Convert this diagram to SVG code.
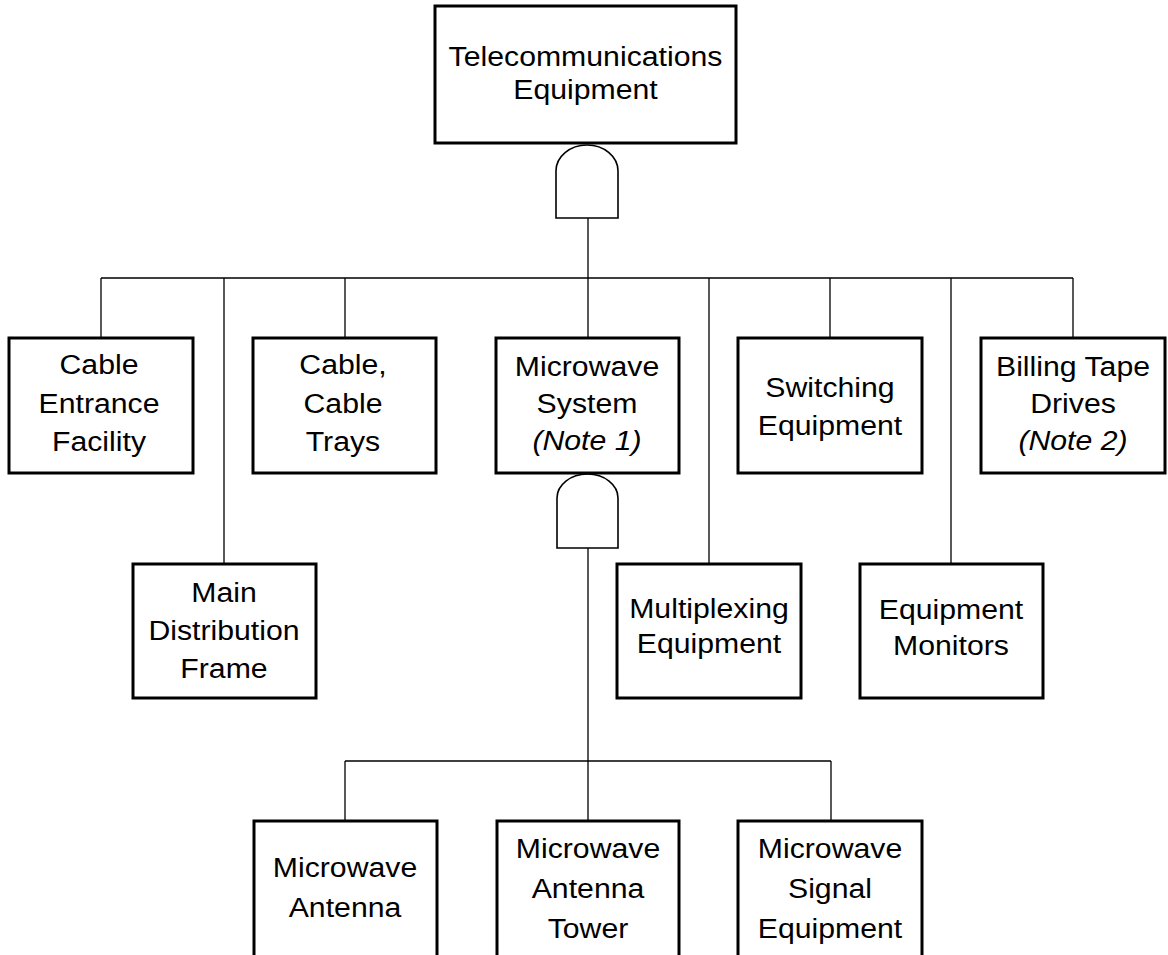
<svg xmlns="http://www.w3.org/2000/svg" width="1168" height="955" viewBox="0 0 1168 955">
<style>
.box{fill:#fff;stroke:#000;stroke-width:3}
.gate{fill:#fff;stroke:#000;stroke-width:1.6}
.ln{fill:none;stroke:#000;stroke-width:1.3}
text{font-family:"Liberation Sans",Arial,sans-serif;font-size:27px;fill:#000;text-anchor:middle}
.it{font-style:italic}
</style>
<rect width="1168" height="955" fill="#fff"/>
<g id="connectors">
<path class="ln" d="M588,218V278M101,278H1073M101,278V338M224,278V564M345,278V338M588,278V338M709,278V564M830,278V338M951,278V564M1073,278V338"/>
<path class="ln" d="M588,548V821M345,761H831M345,761V821M831,761V821"/>
</g>
<g id="gate-top"><path class="gate" d="M556,218V171A31,26 0 0 1 618,171V218Z"/></g>
<g id="gate-microwave"><path class="gate" d="M557,548V498A30.5,24 0 0 1 618,498V548Z"/></g>
<g id="n-telecom">
<rect class="box" x="435" y="6" width="301" height="137"/>
<g transform="translate(585.5 0) scale(1.12 1)"><text x="0" y="66">Telecommunications</text><text x="0" y="99">Equipment</text></g>
</g>
<g id="n-cable-entrance">
<rect class="box" x="9" y="338" width="184" height="135"/>
<g transform="translate(99 0) scale(1.12 1)"><text x="0" y="374">Cable</text><text x="0" y="413">Entrance</text><text x="0" y="451">Facility</text></g>
</g>
<g id="n-cable-trays">
<rect class="box" x="253" y="338" width="183" height="135"/>
<g transform="translate(343 0) scale(1.12 1)"><text x="0" y="374">Cable,</text><text x="0" y="413">Cable</text><text x="0" y="451">Trays</text></g>
</g>
<g id="n-microwave-system">
<rect class="box" x="496" y="338" width="183" height="135"/>
<g transform="translate(587 0) scale(1.12 1)"><text x="0" y="376">Microwave</text><text x="0" y="413">System</text><text class="it" x="0" y="450">(Note 1)</text></g>
</g>
<g id="n-switching">
<rect class="box" x="738" y="338" width="184" height="135"/>
<g transform="translate(830 0) scale(1.12 1)"><text x="0" y="397">Switching</text><text x="0" y="435">Equipment</text></g>
</g>
<g id="n-billing">
<rect class="box" x="981" y="338" width="184" height="135"/>
<g transform="translate(1073 0) scale(1.12 1)"><text x="0" y="376">Billing Tape</text><text x="0" y="413">Drives</text><text class="it" x="0" y="450">(Note 2)</text></g>
</g>
<g id="n-main-distribution">
<rect class="box" x="133" y="564" width="183" height="134"/>
<g transform="translate(224 0) scale(1.12 1)"><text x="0" y="602">Main</text><text x="0" y="640">Distribution</text><text x="0" y="678">Frame</text></g>
</g>
<g id="n-multiplexing">
<rect class="box" x="617" y="564" width="184" height="134"/>
<g transform="translate(709 0) scale(1.12 1)"><text x="0" y="618">Multiplexing</text><text x="0" y="653">Equipment</text></g>
</g>
<g id="n-monitors">
<rect class="box" x="860" y="564" width="183" height="134"/>
<g transform="translate(951 0) scale(1.12 1)"><text x="0" y="619">Equipment</text><text x="0" y="655">Monitors</text></g>
</g>
<g id="n-mw-antenna">
<rect class="box" x="254" y="821" width="183" height="145"/>
<g transform="translate(345 0) scale(1.12 1)"><text x="0" y="877">Microwave</text><text x="0" y="917">Antenna</text></g>
</g>
<g id="n-mw-tower">
<rect class="box" x="497" y="821" width="182" height="145"/>
<g transform="translate(588 0) scale(1.12 1)"><text x="0" y="858">Microwave</text><text x="0" y="898">Antenna</text><text x="0" y="938">Tower</text></g>
</g>
<g id="n-mw-signal">
<rect class="box" x="738" y="821" width="184" height="145"/>
<g transform="translate(830 0) scale(1.12 1)"><text x="0" y="858">Microwave</text><text x="0" y="898">Signal</text><text x="0" y="938">Equipment</text></g>
</g>
</svg>
